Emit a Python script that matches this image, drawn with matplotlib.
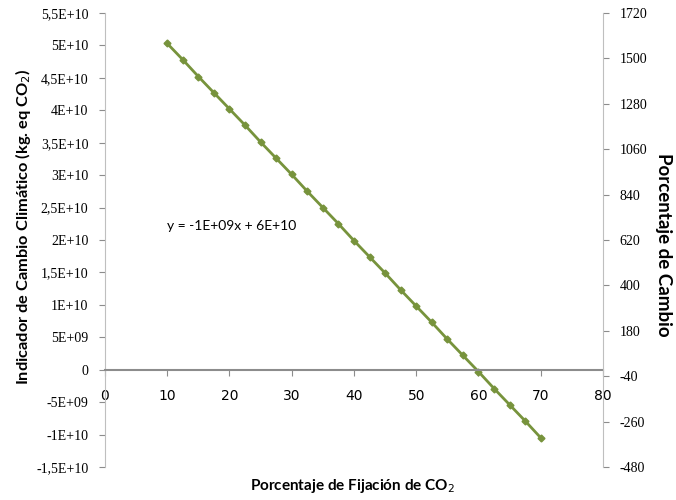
import numpy as np
import matplotlib.pyplot as plt

# Datos
fijacion = [10, 12.5, 15, 17.5, 20, 22.5, 25, 27.5, 30, 32.5, 35, 37.5, 40,
            42.5, 45, 47.5, 50, 52.5, 55, 57.5, 60, 62.5, 65, 67.5, 70]
indicador = [5.03e10, 4.78e10, 4.52e10, 4.27e10, 4.02e10, 3.77e10, 3.51e10,
             3.26e10, 3.01e10, 2.75e10, 2.50e10, 2.25e10, 1.99e10, 1.74e10,
             1.49e10, 1.23e10, 0.98e10, 0.73e10, 0.47e10, 0.22e10, -0.03e10,
             -0.29e10, -0.54e10, -0.79e10, -1.05e10]

yticks_izq = [-1.5e10, -1e10, -5e9, 0, 5e9, 1e10, 1.5e10, 2e10, 2.5e10,
              3e10, 3.5e10, 4e10, 4.5e10, 5e10, 5.5e10]
ylabels_izq = ['-1,5E+10', '-1E+10', '-5E+09', '0', '5E+09', '1E+10',
               '1,5E+10', '2E+10', '2,5E+10', '3E+10', '3,5E+10', '4E+10',
               '4,5E+10', '5E+10', '5,5E+10']
yticks_der = [-480, -260, -40, 180, 400, 620, 840, 1060, 1280, 1500, 1720]
xticks = [0, 10, 20, 30, 40, 50, 60, 70, 80]

verde = '#77933C'
gris = '#8c8c8c'
fuente_tick = 'Liberation Serif'
fuente_label = 'Lato'

fig = plt.figure(figsize=(6.76, 5.0), dpi=100)
fig.patch.set_facecolor('white')
ax = fig.add_axes([0.1553, 0.066, 0.892 - 0.1553, 0.974 - 0.066])

ax.plot(fijacion, indicador, '-D', color=verde, linewidth=2.0,
        markersize=3.5, markeredgecolor=verde)

ax.set_xlim(0, 80)
ax.set_ylim(-1.5e10, 5.5e10)
ax.set_xticks(xticks)
ax.set_xticklabels([str(v) for v in xticks], family=fuente_tick, fontsize=10)
ax.set_yticks(yticks_izq)
ax.set_yticklabels(ylabels_izq, family=fuente_tick, fontsize=10)

ax.spines['top'].set_visible(False)
ax.spines['right'].set_visible(False)
ax.spines['bottom'].set_position(('data', 0))
ax.spines['bottom'].set_color(gris)
ax.spines['bottom'].set_linewidth(1.5)
ax.spines['left'].set_color('#bfbfbf')
ax.tick_params(axis='x', direction='out', length=4, color=gris, pad=10)
ax.tick_params(axis='y', direction='out', length=4, color=gris, pad=8)

ax.set_ylabel(r'Indicador de Cambio Climático (kg. eq CO$_2$)',
              family=fuente_label, fontweight='bold', fontsize=11.8)
ax.yaxis.set_label_coords(-0.145, 0.53)
fig.text(0.521, 0.028, r'Porcentaje de Fijación de CO$_2$', ha='center',
         va='center', family=fuente_label, fontweight='bold', fontsize=11)

ax.text(10, 2.15e10, 'y = -1E+09x + 6E+10', family=fuente_label, fontsize=10)

# Eje secundario
ax2 = ax.twinx()
ax2.set_ylim(-480, 1720)
ax2.set_yticks(yticks_der)
ax2.set_yticklabels([str(v) for v in yticks_der], family=fuente_tick, fontsize=10)
for s in ['top', 'left', 'bottom']:
    ax2.spines[s].set_visible(False)
ax2.spines['right'].set_color('#bfbfbf')
ax2.tick_params(axis='y', direction='out', length=4, color=gris, pad=8)
ax2.set_ylabel('Porcentaje de Cambio', family=fuente_label, fontweight='bold',
               fontsize=13.5, rotation=270)
ax2.yaxis.set_label_coords(1.138, 0.49)

plt.savefig('out.png', dpi=100)
